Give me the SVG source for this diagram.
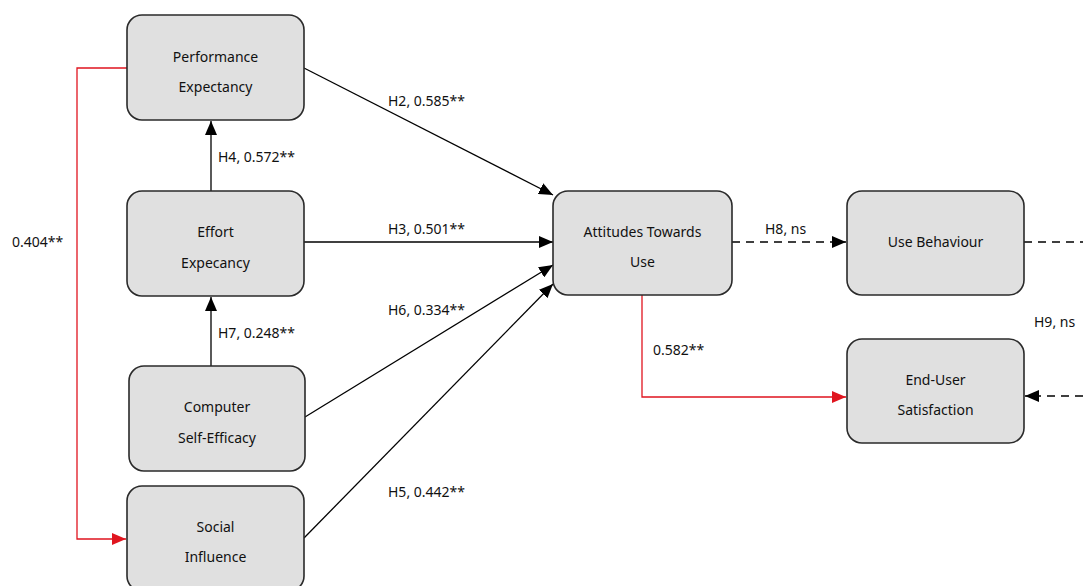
<svg xmlns="http://www.w3.org/2000/svg" width="1083" height="586" viewBox="0 0 1083 586">
<style>
.box{fill:#e0e0e0;stroke:#2a2a2a;stroke-width:1.6}
.t{font-family:"Noto Sans","Open Sans",sans-serif;font-size:14px;fill:#111;text-anchor:middle}
.l{font-family:"Noto Sans","Open Sans",sans-serif;font-size:14px;fill:#111}
.c{fill:none;stroke:#000;stroke-width:1.3}
.r{fill:none;stroke:#e0151f;stroke-width:1.3}
.d{stroke-dasharray:8 6}
</style>
<defs>
<marker id="ab" viewBox="0 0 14 12" refX="14" refY="6" markerWidth="14" markerHeight="12" markerUnits="userSpaceOnUse" orient="auto"><path d="M0,0 L14,6 L0,12 z" fill="#000"/></marker>
<marker id="ar" viewBox="0 0 14 12" refX="14" refY="6" markerWidth="14" markerHeight="12" markerUnits="userSpaceOnUse" orient="auto"><path d="M0,0 L14,6 L0,12 z" fill="#e0151f"/></marker>
</defs>
<rect width="1083" height="586" fill="#fff"/>
<g id="connectors">
<path class="c" d="M211,191 V121" marker-end="url(#ab)"/>
<path class="c" d="M211,366 V297" marker-end="url(#ab)"/>
<path class="r" d="M127,68 H77 V539 H126" marker-end="url(#ar)"/>
<path class="c" d="M304,68 L553,195" marker-end="url(#ab)"/>
<path class="c" d="M304,242 L553,242" marker-end="url(#ab)"/>
<path class="c" d="M305,417 L553,265" marker-end="url(#ab)"/>
<path class="c" d="M304,538 L553,284" marker-end="url(#ab)"/>
<path class="c d" d="M732,242 H846" marker-end="url(#ab)"/>
<path class="c d" d="M1024,242 H1083"/>
<path class="c d" d="M1083,396 H1025" marker-end="url(#ab)"/>
<path class="r" d="M642,295 V397 H846" marker-end="url(#ar)"/>
<text class="l" x="218" y="162">H4, 0.572**</text>
<text class="l" x="218" y="338">H7, 0.248**</text>
<text class="l" x="12" y="247">0.404**</text>
<text class="l" x="388" y="106">H2, 0.585**</text>
<text class="l" x="388" y="234">H3, 0.501**</text>
<text class="l" x="388" y="315">H6, 0.334**</text>
<text class="l" x="388" y="497">H5, 0.442**</text>
<text class="l" x="765" y="234">H8, ns</text>
<text class="l" x="1034" y="327">H9, ns</text>
<text class="l" x="653" y="355">0.582**</text>
</g>
<g id="performance-expectancy">
<rect class="box" x="127" y="15" width="177" height="105" rx="15"/>
<text class="t" x="215.5" y="62">Performance</text>
<text class="t" x="215.5" y="92">Expectancy</text>
</g>
<g id="effort-expectancy">
<rect class="box" x="127" y="191" width="177" height="105" rx="15"/>
<text class="t" x="215.5" y="237">Effort</text>
<text class="t" x="215.5" y="268">Expecancy</text>
</g>
<g id="computer-self-efficacy">
<rect class="box" x="129" y="366" width="176" height="105" rx="15"/>
<text class="t" x="217" y="412">Computer</text>
<text class="t" x="217" y="443">Self-Efficacy</text>
</g>
<g id="social-influence">
<rect class="box" x="127" y="486" width="177" height="105" rx="15"/>
<text class="t" x="215.5" y="532">Social</text>
<text class="t" x="215.5" y="562">Influence</text>
</g>
<g id="attitudes">
<rect class="box" x="553" y="191" width="179" height="104" rx="15"/>
<text class="t" x="642.5" y="237">Attitudes Towards</text>
<text class="t" x="642.5" y="267">Use</text>
</g>
<g id="use-behaviour">
<rect class="box" x="847" y="191" width="177" height="104" rx="15"/>
<text class="t" x="935.5" y="247">Use Behaviour</text>
</g>
<g id="end-user-satisfaction">
<rect class="box" x="847" y="339" width="177" height="104" rx="15"/>
<text class="t" x="935.5" y="385">End-User</text>
<text class="t" x="935.5" y="415">Satisfaction</text>
</g>
</svg>
